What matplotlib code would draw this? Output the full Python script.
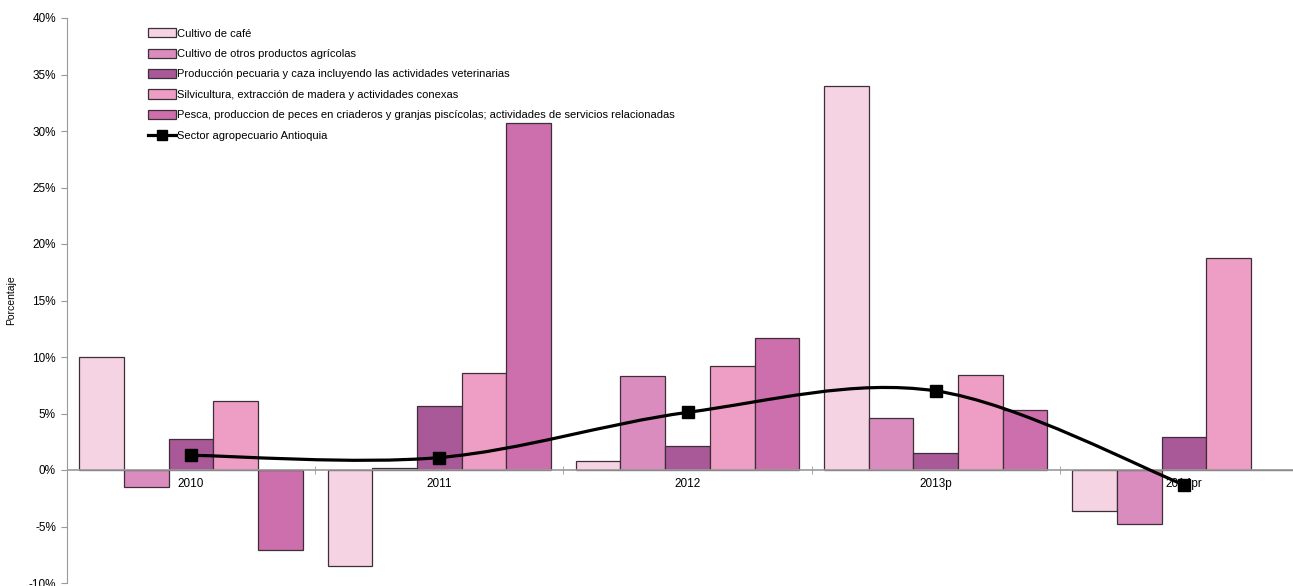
import numpy as np
import matplotlib.pyplot as plt
from matplotlib.path import Path
from matplotlib.patches import PathPatch
from matplotlib.ticker import FuncFormatter, FixedLocator

plt.rcParams['font.family'] = ['Liberation Sans', 'DejaVu Sans']

# data (percent)
years = ['2010', '2011', '2012', '2013p', '2014pr']
cafe = [10.0, -8.5, 0.8, 34.0, -3.6]
otros = [-1.5, 0.2, 8.3, 4.6, -4.8]
pecuaria = [2.7, 5.7, 2.1, 1.5, 2.9]
silvicultura = [6.1, 8.6, 9.2, 8.4, 18.8]
pesca = [-7.1, 30.7, 11.7, 5.3, 0.0]
sector = [1.3, 1.1, 5.1, 7.0, -1.3]

names = ['Cultivo de café',
         'Cultivo de otros productos agrícolas',
         'Producción pecuaria y caza incluyendo las actividades veterinarias',
         'Silvicultura, extracción de madera y actividades conexas',
         'Pesca, produccion de peces en criaderos y granjas piscícolas; actividades de servicios relacionadas']
line_name = 'Sector agropecuario Antioquia'
colors = ['#F5D3E3', '#D98CBD', '#A95898', '#EE9EC4', '#CC6FAC']

fig = plt.figure(figsize=(12.93, 5.86), dpi=100)
ax = fig.add_axes([67/1293, 3/586, 1241/1293, 565/586])

x = np.arange(len(years))
w = 0.18
series = [cafe, otros, pecuaria, silvicultura, pesca]
handles = []
for i, vals in enumerate(series):
    b = ax.bar(x + (i - 2) * w, vals, w, color=colors[i], edgecolor='#3d2f38',
               linewidth=0.9, label=names[i], zorder=2)
    handles.append(b)

# smooth line (catmull-rom as bezier segments, like excel smoothing)
px = x.astype(float)
py = np.array(sector)
verts = [(px[0], py[0])]
codes = [Path.MOVETO]
n = len(px)
for k in range(n - 1):
    p0 = (px[max(k - 1, 0)], py[max(k - 1, 0)])
    p1 = (px[k], py[k])
    p2 = (px[k + 1], py[k + 1])
    p3 = (px[min(k + 2, n - 1)], py[min(k + 2, n - 1)])
    c1 = (p1[0] + (p2[0] - p0[0]) / 6, p1[1] + (p2[1] - p0[1]) / 6)
    c2 = (p2[0] - (p3[0] - p1[0]) / 6, p2[1] - (p3[1] - p1[1]) / 6)
    verts += [c1, c2, p2]
    codes += [Path.CURVE4] * 3
ax.add_patch(PathPatch(Path(verts, codes), facecolor='none', edgecolor='black',
                       linewidth=2.3, zorder=3))
ax.plot(x, sector, linestyle='none', marker='s', markersize=8, color='black', zorder=4)
lh, = ax.plot([], [], color='black', linewidth=2.3, marker='s', markersize=7, label=line_name)
handles.append(lh)

# zero line in gray over the bar bottoms
ax.axhline(0, color='#9a9a9a', linewidth=1.2, zorder=2.5)

ax.set_xlim(-0.5, 4.5)
ax.set_ylim(-10, 40)
ax.set_yticks(np.arange(-10, 41, 5))
ax.yaxis.set_major_formatter(FuncFormatter(lambda v, p: '%d%%' % v))
ax.set_ylabel('Porcentaje', fontsize=7.5)
ax.yaxis.set_label_coords(-0.041, 0.5)

ax.spines['top'].set_visible(False)
ax.spines['right'].set_visible(False)
ax.spines['left'].set_color('#999999')
ax.spines['bottom'].set_position(('data', 0))
ax.spines['bottom'].set_visible(False)

ax.set_xticks(x)
ax.set_xticklabels(years)
ax.xaxis.set_minor_locator(FixedLocator(np.arange(0.5, 4.6, 1)))
ax.tick_params(axis='x', which='major', length=0, pad=6, labelsize=8.5)
ax.tick_params(axis='x', which='minor', length=6, direction='inout', color='#999999')
ax.tick_params(axis='y', length=4, color='#999999', labelsize=8.5, pad=4)

leg = ax.legend(handles=handles, loc='upper left', bbox_to_anchor=(0.062, 0.99),
                frameon=False, fontsize=8, handlelength=2.5, handleheight=0.9,
                handletextpad=0.1, labelspacing=0.9, borderaxespad=0)

fig.savefig('out.png', dpi=100)
